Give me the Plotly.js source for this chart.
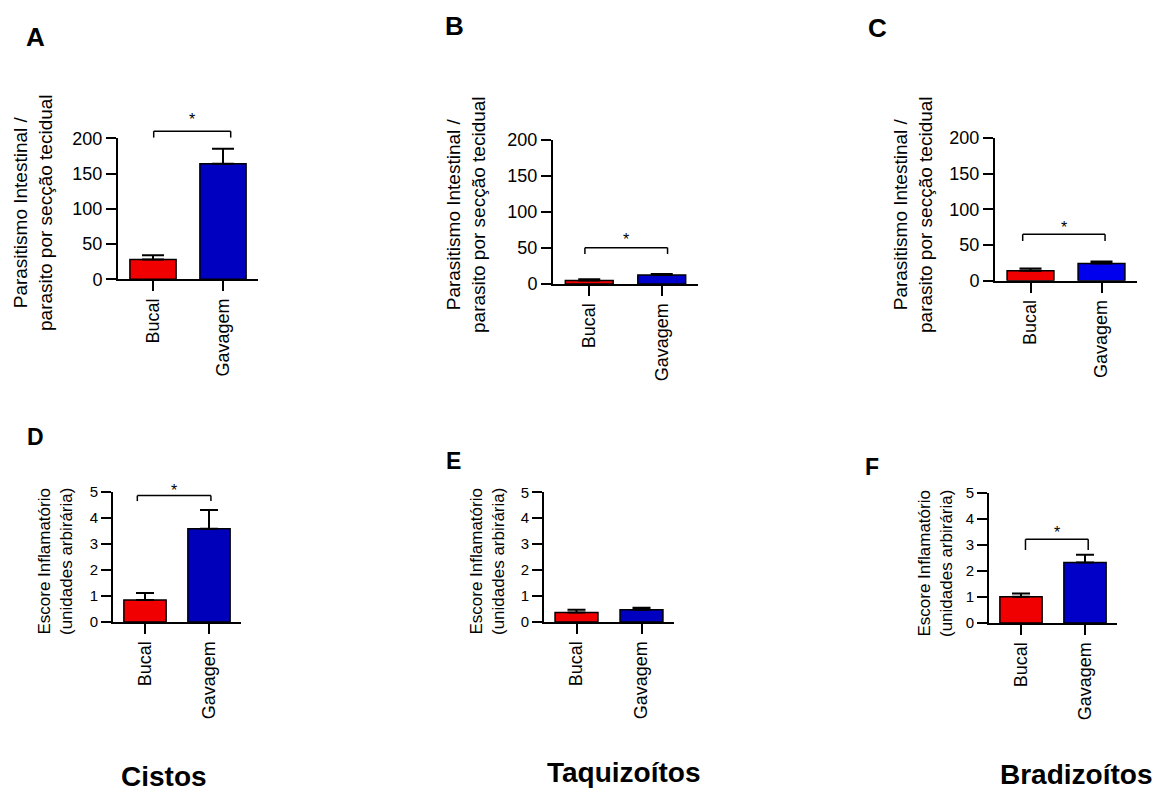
<!DOCTYPE html>
<html><head><meta charset="utf-8">
<script src="https://cdn.plot.ly/plotly-3.0.1.min.js"></script>
<style>html,body{margin:0;padding:0;background:#fff;} #chart{width:1159px;height:798px;}</style>
</head><body><div id="chart"></div>
<script>
// ---------- data ----------
const categories = ['Bucal', 'Gavagem'];
const parasitismTicks = [0, 50, 100, 150, 200];
const scoreTicks = [0, 1, 2, 3, 4, 5];

const meanCistosParasit = [28, 164];
const semCistosParasit  = [6, 21];
const meanTaquiParasit  = [5, 12.5];
const semTaquiParasit   = [1.5, 1.5];
const meanBradiParasit  = [14, 24];
const semBradiParasit   = [3, 3];

const meanCistosScore = [0.84, 3.58];
const semCistosScore  = [0.27, 0.72];
const meanTaquiScore  = [0.37, 0.47];
const semTaquiScore   = [0.10, 0.08];
const meanBradiScore  = [1.01, 2.32];
const semBradiScore   = [0.12, 0.30];

const panelLetters = ['A', 'B', 'C', 'D', 'E', 'F'];
const groupTitles = ['Cistos', 'Taquizoítos', 'Bradizoítos'];
const yTitleTop = 'Parasitismo Intestinal /<br>parasito por secção tecidual';
const yTitleBottom = 'Escore Inflamatório<br>(unidades arbirária)';

// ---------- layout config (pixels) ----------
const W = 1159, H = 798;
const FONT = 'Arial, Liberation Sans, Helvetica, sans-serif';
const panels = [
  {mean: meanCistosParasit, sem: semCistosParasit, ticks: parasitismTicks, title: yTitleTop,
   px: [118, 258], py: [138.3, 279.3], blue: '#0000c0', tx: 33, ty: 213, tsize: 19, tick: 18, capw: 11,
   letter: [35, 37.5, 26], sig: {y: 210, drop: 201, x0: 0.01, x1: 1.11, gap: 15}},
  {mean: meanTaquiParasit, sem: semTaquiParasit, ticks: parasitismTicks, title: yTitleTop,
   px: [553, 698], py: [140, 284], blue: '#0000cc', tx: 466, ty: 215, tsize: 19, tick: 18, capw: 11,
   letter: [454, 26, 26], sig: {y: 50.4, drop: 41.7, x0: -0.06, x1: 1.08, gap: 12}},
  {mean: meanBradiParasit, sem: semBradiParasit, ticks: parasitismTicks, title: yTitleTop,
   px: [995, 1137], py: [138, 280.7], blue: '#0000ee', tx: 913, ty: 215, tsize: 19, tick: 18, capw: 11,
   letter: [877, 28, 26], sig: {y: 65, drop: 55.6, x0: -0.11, x1: 1.05, gap: 10}},
  {mean: meanCistosScore, sem: semCistosScore, ticks: scoreTicks, title: yTitleBottom,
   px: [113, 241], py: [491.7, 622], blue: '#0000bb', tx: 55, ty: 562, tsize: 17, tick: 15, capw: 9,
   letter: [35, 437, 23], sig: {y: 4.85, drop: 4.64, x0: -0.12, x1: 1.03, gap: 9}},
  {mean: meanTaquiScore, sem: semTaquiScore, ticks: scoreTicks, title: yTitleBottom,
   px: [544, 674], py: [492.3, 622], blue: '#0000c0', tx: 487, ty: 562, tsize: 17, tick: 15, capw: 9,
   letter: [453, 461, 23], sig: null},
  {mean: meanBradiScore, sem: semBradiScore, ticks: scoreTicks, title: yTitleBottom,
   px: [989, 1117], py: [492.7, 623], blue: '#0000c8', tx: 935, ty: 564, tsize: 17, tick: 15, capw: 9,
   letter: [872, 467, 23], sig: {y: 3.21, drop: 2.8, x0: 0.07, x1: 1.05, gap: 10}}
];
const captionPos = [[164, 776], [623, 772], [1076, 774]];

// ---------- build ----------
const traces = [];
const layout = {
  width: W, height: H, margin: {l: 0, r: 0, t: 0, b: 0},
  paper_bgcolor: '#fff', plot_bgcolor: '#fff', showlegend: false,
  font: {family: FONT, color: '#000'},
  shapes: [], annotations: []
};
const XR = [-0.5, 1.5];

panels.forEach((p, i) => {
  const s = i === 0 ? '' : String(i + 1);
  const ymax = p.ticks[p.ticks.length - 1];
  traces.push({
    type: 'bar', x: categories, y: p.mean, xaxis: 'x' + s, yaxis: 'y' + s, width: 0.66,
    marker: {color: ['#f00000', p.blue], line: {color: '#000', width: 1.5}},
    error_y: {type: 'data', symmetric: false, array: p.sem, arrayminus: p.sem.map(() => 0),
              color: '#000', thickness: 2, width: p.capw},
    hoverinfo: 'skip'
  });
  layout['xaxis' + s] = {
    domain: [p.px[0] / W, p.px[1] / W], anchor: 'y' + s, type: 'category', range: XR,
    showline: true, linecolor: '#000', linewidth: 2, ticks: 'outside', ticklen: 10, tickwidth: 2,
    tickcolor: '#000', tickangle: -90, tickfont: {size: 18, color: '#000', family: FONT},
    showgrid: false, zeroline: false, fixedrange: true
  };
  layout['yaxis' + s] = {
    domain: [1 - p.py[1] / H, 1 - p.py[0] / H], anchor: 'x' + s, range: [0, ymax], tickvals: p.ticks,
    showline: true, linecolor: '#000', linewidth: 2, ticks: 'outside', ticklen: 10, tickwidth: 2,
    tickcolor: '#000', tickfont: {size: p.tick, color: '#000', family: FONT},
    showgrid: false, zeroline: false, fixedrange: true
  };
  layout.annotations.push({xref: 'paper', yref: 'paper', x: p.tx / W, y: 1 - p.ty / H,
    xanchor: 'center', yanchor: 'middle', textangle: -90, showarrow: false, text: p.title,
    font: {size: p.tsize, color: '#000', family: FONT}});
  layout.annotations.push({xref: 'paper', yref: 'paper', x: p.letter[0] / W, y: 1 - p.letter[1] / H,
    xanchor: 'center', yanchor: 'middle', showarrow: false, text: panelLetters[i],
    font: {size: p.letter[2], color: '#000', family: FONT, weight: 700}});
  if (p.sig) {
    const fx = v => (v - XR[0]) / (XR[1] - XR[0]);
    const fy = v => v / ymax;
    const ln = (a, b, c, d) => ({type: 'line', xref: 'x' + s + ' domain', yref: 'y' + s + ' domain',
      x0: a, y0: b, x1: c, y1: d, line: {color: '#000', width: 1.5}});
    const g = p.sig;
    layout.shapes.push(ln(fx(g.x0), fy(g.drop), fx(g.x0), fy(g.y)));
    layout.shapes.push(ln(fx(g.x0), fy(g.y), fx(g.x1), fy(g.y)));
    layout.shapes.push(ln(fx(g.x1), fy(g.y), fx(g.x1), fy(g.drop)));
    layout.annotations.push({xref: 'x' + s + ' domain', yref: 'y' + s + ' domain',
      x: fx((g.x0 + g.x1) / 2), y: fy(g.y),
      xanchor: 'center', yanchor: 'bottom', yshift: g.gap - 14, showarrow: false, text: '*',
      font: {size: 16, color: '#000', family: FONT}});
  }
});

groupTitles.forEach((t, i) => {
  layout.annotations.push({xref: 'paper', yref: 'paper', x: captionPos[i][0] / W, y: 1 - captionPos[i][1] / H,
    xanchor: 'center', yanchor: 'middle', showarrow: false, text: t,
    font: {size: 28, color: '#000', family: FONT, weight: 700}});
});

Plotly.newPlot('chart', traces, layout, {displayModeBar: false, responsive: false});
</script>
</body></html>
